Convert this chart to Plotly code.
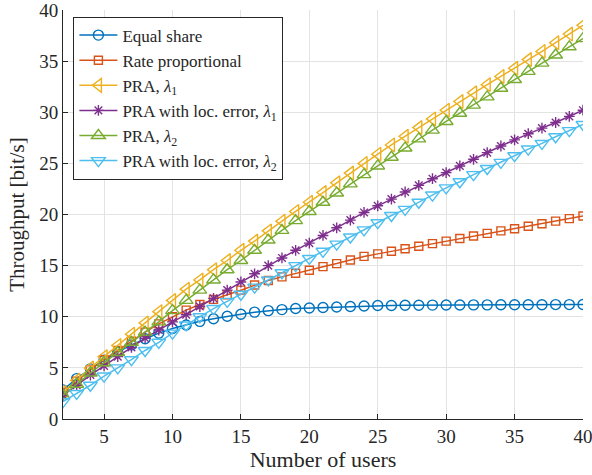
import plotly.graph_objects as go

users = list(range(2, 41))

equal_share = [2.85, 3.95, 4.9, 5.75, 6.55, 7.25, 7.85, 8.4, 8.85, 9.2, 9.55, 9.8, 10.05, 10.25,
               10.45, 10.6, 10.7, 10.8, 10.85, 10.9, 10.95, 11.0, 11.05, 11.1, 11.1, 11.12, 11.13,
               11.14, 11.15, 11.15, 11.16, 11.16, 11.17, 11.17, 11.18, 11.18, 11.19, 11.19, 11.2]
rate_prop = [2.6, 3.7, 4.8, 5.8, 6.7, 7.6, 8.5, 9.3, 10.0, 10.65, 11.2, 11.7, 12.15, 12.6, 13.1,
             13.55, 13.9, 14.25, 14.55, 14.9, 15.2, 15.55, 15.9, 16.15, 16.4, 16.65, 16.9, 17.15,
             17.4, 17.65, 17.9, 18.15, 18.4, 18.6, 18.85, 19.1, 19.35, 19.6, 19.85]
pra_l1 = [2.6, 3.8, 5.0, 6.1, 7.2, 8.3, 9.4, 10.5, 11.6, 12.7, 13.6, 14.6, 15.5, 16.5, 17.4,
          18.4, 19.35, 20.3, 21.2, 22.15, 23.1, 24.05, 25.0, 25.9, 26.8, 27.65, 28.5, 29.35,
          30.2, 31.05, 31.9, 32.7, 33.5, 34.3, 35.15, 35.95, 36.8, 37.65, 38.5]
pra_err_l1 = [2.3, 3.3, 4.3, 5.2, 6.1, 7.0, 7.9, 8.7, 9.5, 10.2, 11.0, 11.8, 12.6, 13.4, 14.2,
              15.0, 15.75, 16.5, 17.2, 17.95, 18.7, 19.45, 20.2, 20.85, 21.5, 22.2, 22.85, 23.5,
              24.1, 24.75, 25.4, 26.05, 26.7, 27.3, 27.9, 28.45, 29.0, 29.6, 30.2]
pra_l2 = [2.3, 3.4, 4.5, 5.5, 6.5, 7.5, 8.5, 9.5, 10.6, 11.6, 12.6, 13.6, 14.6, 15.5, 16.5,
          17.5, 18.45, 19.4, 20.3, 21.2, 22.1, 23.0, 23.9, 24.75, 25.6, 26.5, 27.4, 28.25,
          29.1, 29.9, 30.7, 31.5, 32.35, 33.2, 34.0, 34.8, 35.6, 36.4, 37.2]
pra_err_l2 = [1.7, 2.5, 3.3, 4.2, 5.0, 5.8, 6.7, 7.5, 8.4, 9.2, 10.0, 10.8, 11.5, 12.2, 12.9,
              13.6, 14.3, 15.0, 15.7, 16.4, 17.1, 17.8, 18.5, 19.2, 19.9, 20.5, 21.2, 21.9,
              22.6, 23.2, 23.9, 24.5, 25.1, 25.75, 26.4, 26.95, 27.6, 28.2, 28.8]

names = ["Equal share", "Rate proportional", "PRA, <i>λ</i><sub>1</sub>",
         "PRA with loc. error, <i>λ</i><sub>1</sub>", "PRA, <i>λ</i><sub>2</sub>",
         "PRA with loc. error, <i>λ</i><sub>2</sub>"]
series = [equal_share, rate_prop, pra_l1, pra_err_l1, pra_l2, pra_err_l2]
colors = ["#0072BD", "#D95319", "#EDB120", "#7E2F8E", "#77AC30", "#4DBEEE"]
symbols = ["circle-open", "square-open", "triangle-left-open", "asterisk-open",
           "triangle-up-open", "triangle-down-open"]
sizes = [10, 8, 12, 9, 12, 12]

fig = go.Figure()
for n, s, c, sym, sz in zip(names, series, colors, symbols, sizes):
    fig.add_trace(go.Scatter(
        x=users, y=s, name=n, mode="lines+markers",
        line=dict(color=c, width=1.5),
        marker=dict(symbol=sym, size=sz, color=c, line=dict(color=c, width=1.4)),
    ))

font_family = "Liberation Serif, DejaVu Serif, serif"
fig.update_layout(
    width=592, height=475,
    margin=dict(l=63, r=9, t=10, b=56, autoexpand=False),
    paper_bgcolor="white", plot_bgcolor="white",
    font=dict(family=font_family, color="#262626", size=19),
    showlegend=True,
    legend=dict(x=0.02, y=0.984, xanchor="left", yanchor="top",
                bgcolor="white", bordercolor="#262626", borderwidth=1,
                font=dict(size=17, family=font_family, color="#262626"),
                tracegroupgap=0, itemwidth=38),
    xaxis=dict(range=[2, 40], tickvals=[5, 10, 15, 20, 25, 30, 35, 40],
               showgrid=True, gridcolor="#e3e3e3", gridwidth=1,
               showline=True, linecolor="#262626", linewidth=1,
               ticks="inside", ticklen=5, tickcolor="#262626",
               zeroline=False, tickfont=dict(size=19), ticklabeloverflow="allow",
               title=dict(text="Number of users", font=dict(size=22), standoff=4)),
    yaxis=dict(range=[0, 40], tickvals=[0, 5, 10, 15, 20, 25, 30, 35, 40],
               showgrid=True, gridcolor="#e3e3e3", gridwidth=1,
               showline=True, linecolor="#262626", linewidth=1,
               ticks="inside", ticklen=5, tickcolor="#262626",
               zeroline=False, tickfont=dict(size=19), ticklabeloverflow="allow",
               title=dict(text="Throughput [bit/s]", font=dict(size=21), standoff=8)),
)
fig.write_html("out.html")
